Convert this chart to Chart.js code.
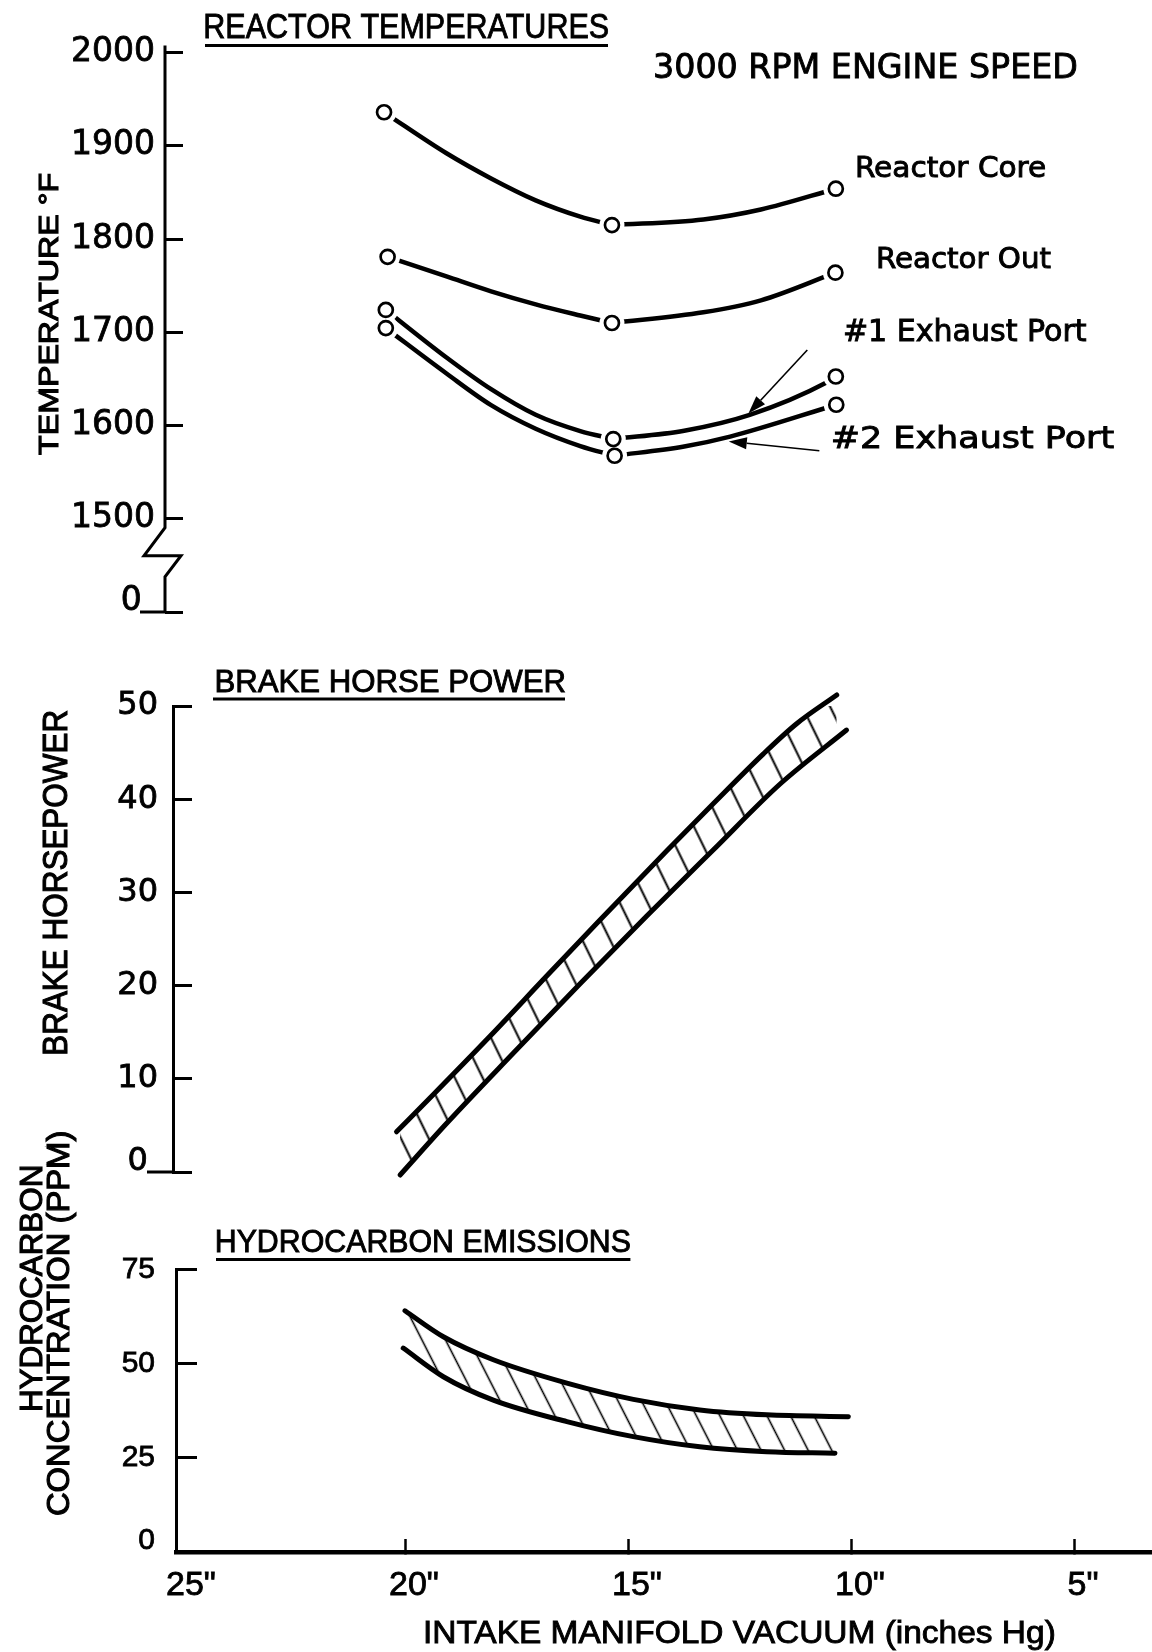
<!DOCTYPE html>
<html><head><meta charset="utf-8">
<script src="https://cdn.jsdelivr.net/npm/chart.js@4.4.0/dist/chart.umd.min.js"></script>
<style>
html,body{margin:0;padding:0;background:#fff;}
#wrap{position:relative;width:1152px;height:1652px;overflow:hidden;background:#fff;}
canvas{position:absolute;left:0;}
</style></head><body>
<div id="wrap">
<canvas id="c1" width="1152" height="640" style="top:0px;width:1152px;height:640px"></canvas>
<canvas id="c2" width="1152" height="570" style="top:630px;width:1152px;height:570px"></canvas>
<canvas id="c3" width="1152" height="562" style="top:1090px;width:1152px;height:562px"></canvas>
</div>
<script>
// ---------------- DATA ----------------
// shared x axis: intake manifold vacuum (inches Hg)
const xTickValues = [25, 20, 15, 10, 5];
const xTickLabels = ['25"', '20"', '15"', '10"', '5"'];

// Reactor temperatures (deg F); 1400 position is the broken-axis "0"
const tempTickValues = [1400, 1500, 1600, 1700, 1800, 1900, 2000];
const tempTickLabels = ['0', '1500', '1600', '1700', '1800', '1900', '2000'];
const seriesNames = ['Reactor Core', 'Reactor Out', '#1 Exhaust Port', '#2 Exhaust Port'];
// measured points (circles)
const coreX = [20.47, 15.36, 10.34];
const coreT = [1936, 1815, 1854];
const outX = [20.39, 15.36, 10.35];
const outT = [1781, 1710, 1764];
const port1X = [20.43, 15.33, 10.34];
const port1T = [1724, 1585.5, 1652.6];
const port2X = [20.43, 15.30, 10.33];
const port2T = [1704.5, 1567.6, 1622.3];
// faired curves (through the circles)
const coreCurveX = [20.47, 19.07, 18.07, 17.07, 16.07, 15.36, 13.31, 12.02, 10.34];
const coreCurveT = [1936, 1892, 1865, 1841.5, 1824, 1815, 1821, 1831.7, 1854];
const outCurveX = [20.39, 19.07, 18.07, 17.07, 16.07, 15.36, 13.31, 12.02, 10.35];
const outCurveT = [1781, 1760, 1744, 1730, 1718, 1710, 1721.5, 1734.3, 1764];
const port1CurveX = [20.43, 19.07, 18.07, 17.07, 16.07, 15.33, 13.74, 12.27, 10.55, 10.34];
const port1CurveT = [1724, 1673, 1639, 1611.5, 1594, 1585.5, 1594.4, 1611.4, 1646.1, 1652.6];
const port2CurveX = [20.43, 19.07, 18.07, 17.07, 16.07, 15.30, 13.74, 12.71, 10.33];
const port2CurveT = [1704.5, 1655.8, 1621.9, 1596.6, 1578, 1567.6, 1577.5, 1588.1, 1622.3];
// label arrows (vacuum, temperature): [fromX, fromY, toX, toY]
const arrowPort1 = [10.98, 1681, 12.30, 1613];
const arrowPort2 = [10.71, 1573, 12.74, 1583];

// Brake horse power band
const bhpTicks = [0, 10, 20, 30, 40, 50];
const bhpUpperX = [20.19, 19.37, 18.09, 16.84, 15.65, 14.13, 13.09, 11.97, 11.22, 10.32];
const bhpUpper  = [4.32, 8.29, 14.59, 20.94, 26.94, 34.47, 39.51, 44.84, 48.1, 51.18];
const bhpLowerX = [20.11, 19.07, 17.58, 16.08, 14.58, 13.09, 11.59, 10.10];
const bhpLower  = [-0.32, 5.2, 12.71, 20.17, 27.47, 34.55, 41.63, 47.42];

// Hydrocarbon emissions band (PPM)
const hcTicks = [0, 25, 50, 75];
const hcUpperX = [20.0, 19.14, 18.02, 16.37, 14.88, 13.39, 11.89, 10.06];
const hcUpper  = [64.0, 57.1, 51.0, 44.8, 40.5, 37.7, 36.4, 35.9];
const hcLowerX = [20.04, 19.14, 18.02, 16.37, 14.88, 13.39, 11.89, 10.36];
const hcLower  = [54.1, 46.5, 40.3, 34.6, 30.6, 27.9, 26.6, 26.2];

// ---------------- LAYOUT ----------------
const PAGE_W = 1152;
const X20_PX = 405, PX_PER_IN = 44.6;
const valAtPx = px => 20 - (px - X20_PX) / PX_PER_IN;
const pts = (xs, ys) => xs.map((x, i) => ({x, y: ys[i]}));

function hatch(spacing, angleDeg, lw) {
  const tile = document.createElement('canvas');
  tile.width = spacing; tile.height = spacing;
  const g = tile.getContext('2d');
  g.strokeStyle = '#000'; g.lineWidth = lw;
  g.beginPath(); g.moveTo(spacing / 2, -2); g.lineTo(spacing / 2, spacing + 2); g.stroke();
  const p = g.createPattern(tile, 'repeat');
  p.setTransform(new DOMMatrix().rotateSelf(angleDeg));
  return p;
}

function fitText(ctx, t, x0, x1, base, cap, fam, sw) {
  ctx.save();
  ctx.font = `normal ${cap * 1.4}px ${fam}`;
  ctx.textAlign = 'left'; ctx.textBaseline = 'alphabetic';
  ctx.fillStyle = '#000'; ctx.strokeStyle = '#000'; ctx.lineWidth = sw == null ? 0.9 : sw;
  const m = ctx.measureText(t);
  const w = m.actualBoundingBoxLeft + m.actualBoundingBoxRight;
  ctx.translate(x0, base); ctx.scale((x1 - x0) / w, 1);
  ctx.fillText(t, m.actualBoundingBoxLeft, 0);
  if (ctx.lineWidth > 0) ctx.strokeText(t, m.actualBoundingBoxLeft, 0);
  ctx.restore();
}
function fitTextV(ctx, t, cx, yTop, yBot, cap, fam, sw) {
  ctx.save();
  ctx.font = `normal ${cap * 1.4}px ${fam}`;
  ctx.textAlign = 'left'; ctx.textBaseline = 'alphabetic';
  ctx.fillStyle = '#000'; ctx.strokeStyle = '#000'; ctx.lineWidth = sw == null ? 0.9 : sw;
  const m = ctx.measureText(t);
  const w = m.actualBoundingBoxLeft + m.actualBoundingBoxRight;
  ctx.translate(cx + cap / 2, yBot); ctx.rotate(-Math.PI / 2); ctx.scale((yBot - yTop) / w, 1);
  ctx.fillText(t, m.actualBoundingBoxLeft, 0);
  ctx.strokeText(t, m.actualBoundingBoxLeft, 0);
  ctx.restore();
}
function seg(ctx, x1, y1, x2, y2, lw) {
  ctx.save(); ctx.strokeStyle = '#000'; ctx.lineWidth = lw; ctx.lineCap = 'butt';
  ctx.beginPath(); ctx.moveTo(x1, y1); ctx.lineTo(x2, y2); ctx.stroke(); ctx.restore();
}
function arrow(ctx, x1, y1, x2, y2, headLen, headW, lw) {
  ctx.save(); ctx.strokeStyle = '#000'; ctx.fillStyle = '#000'; ctx.lineWidth = lw;
  const a = Math.atan2(y2 - y1, x2 - x1);
  const bx = x2 - headLen * Math.cos(a), by = y2 - headLen * Math.sin(a);
  ctx.beginPath(); ctx.moveTo(x1, y1); ctx.lineTo(bx, by); ctx.stroke();
  ctx.beginPath(); ctx.moveTo(x2, y2);
  ctx.lineTo(bx + headW * Math.sin(a), by - headW * Math.cos(a));
  ctx.lineTo(bx - headW * Math.sin(a), by + headW * Math.cos(a));
  ctx.closePath(); ctx.fill(); ctx.restore();
}

function xScale(axisPx, show, extra) {
  return Object.assign({
    type: 'linear', reverse: true, display: show,
    min: valAtPx(PAGE_W), max: valAtPx(axisPx),
    afterBuildTicks: s => { s.ticks = xTickValues.map(v => ({value: v})); }
  }, extra || {});
}
function yScale(min, max, vals, labels, axisPx, tickLen, pad, fam, size, borderOn, zeroVal, zeroLabel, zeroLH) {
  return {
    type: 'linear', position: 'left', min, max,
    afterBuildTicks: s => { s.ticks = vals.map(v => ({value: v})); },
    afterFit: s => { s.width = axisPx; s.paddingTop = 0; s.paddingBottom = 0; },
    border: {display: borderOn, color: '#000', width: 3},
    grid: {drawOnChartArea: false, drawTicks: true, tickLength: -tickLen, tickWidth: 3, tickColor: '#000'},
    ticks: {color: '#000', padding: pad, autoSkip: false, textStrokeColor: '#000', textStrokeWidth: 0.8,
            font: c => ({family: fam, size, lineHeight: (c.tick && c.tick.value === zeroVal) ? zeroLH : 1.2}),
            callback: v => v === zeroVal ? [zeroLabel, ''] : labels[vals.indexOf(v)]}
  };
}
const baseOpts = {
  responsive: false, animation: false, devicePixelRatio: 1, events: [],
  plugins: {legend: {display: false}, tooltip: {enabled: false},
            filler: {propagate: false, drawTime: 'beforeDatasetsDraw'}}
};

// ---------------- CHART 1: reactor temperatures ----------------
const T1 = 0;
const tempCurves = [[coreCurveX, coreCurveT, coreX[1]], [outCurveX, outCurveT, outX[1]],
                    [port1CurveX, port1CurveT, port1X[1]], [port2CurveX, port2CurveT, port2X[1]]];
const tempPoints = [[coreX, coreT], [outX, outT], [port1X, port1T], [port2X, port2T]];
const allTempPts = tempPoints.flatMap(([xs, ys]) => pts(xs, ys));
// each curve is drawn as two faired branches meeting at the middle circle
const branchSets = tempCurves.flatMap(([xs, ys, midX], i) => {
  const k = xs.indexOf(midX);
  const mk = (a, b) => ({
    label: seriesNames[i], data: pts(xs.slice(a, b), ys.slice(a, b)), borderColor: '#000', borderWidth: 4.5,
    pointRadius: 0, fill: false, cubicInterpolationMode: 'monotone', order: 2, clip: false
  });
  return [mk(0, k + 1), mk(k, xs.length)];
});
new Chart(document.getElementById('c1'), {
  type: 'line',
  data: {datasets: [
    ...branchSets,
    {label: 'halo', data: allTempPts, showLine: false, pointRadius: 12.5,
     pointBackgroundColor: '#fff', pointBorderColor: '#fff', pointBorderWidth: 0, order: 1, clip: false},
    {label: 'points', data: allTempPts, showLine: false, pointRadius: 7,
     pointBackgroundColor: 'rgba(0,0,0,0)', pointBorderColor: '#000', pointBorderWidth: 2.7, order: 0, clip: false}
  ]},
  options: Object.assign({}, baseOpts, {
    layout: {autoPadding: false, padding: {top: 52.6, bottom: 28, left: 0, right: 0}},
    scales: {
      x: xScale(165, false),
      y: yScale(1400, 2000, tempTickValues, tempTickLabels, 165, 18, 28, 'DejaVu Sans', 33, false,
                1400, '0\u2009\u2009', 0.66)
    }
  }),
  plugins: [{
    id: 'deco1',
    afterDraw(chart) {
      const ctx = chart.ctx, ys = chart.scales.y, xs = chart.scales.x;
      const ax = chart.chartArea.left;
      const yTop = ys.getPixelForValue(2000), y15 = ys.getPixelForValue(1500), y0 = ys.getPixelForValue(1400);
      ctx.save(); ctx.strokeStyle = '#000'; ctx.lineWidth = 3; ctx.lineJoin = 'miter';
      ctx.beginPath();
      ctx.moveTo(ax, yTop - 7); ctx.lineTo(ax, y15 + 9); ctx.lineTo(ax - 21, y15 + 37);
      ctx.lineTo(ax + 16, y15 + 37); ctx.lineTo(ax, y15 + 58); ctx.lineTo(ax, y0);
      ctx.stroke(); ctx.restore();
      seg(ctx, ax - 25, y0, ax, y0, 3);
      [arrowPort1, arrowPort2].forEach(a => {
        arrow(ctx, xs.getPixelForValue(a[0]), ys.getPixelForValue(a[1]),
              xs.getPixelForValue(a[2]), ys.getPixelForValue(a[3]), 18, 6, 1.6);
      });
      fitText(ctx, 'REACTOR TEMPERATURES', 205, 608, 37.5 - T1, 25, 'Liberation Sans');
      seg(ctx, 205, 45.5 - T1, 608, 45.5 - T1, 3);
      fitText(ctx, '3000 RPM ENGINE SPEED', 655, 1076, 78 - T1, 24, 'DejaVu Sans');
      fitText(ctx, seriesNames[0], 857, 1045, 177 - T1, 20, 'DejaVu Sans');
      fitText(ctx, seriesNames[1], 878, 1051, 268 - T1, 20, 'DejaVu Sans');
      fitText(ctx, seriesNames[2], 845, 1086, 341 - T1, 21, 'DejaVu Sans');
      fitText(ctx, seriesNames[3], 833, 1114, 448 - T1, 22, 'DejaVu Sans');
      fitTextV(ctx, 'TEMPERATURE °F', 48, 174, 455, 20, 'Liberation Sans', 1.1);
    }
  }]
});

// ---------------- CHART 2: brake horse power ----------------
const T2 = 630;
new Chart(document.getElementById('c2'), {
  type: 'line',
  data: {datasets: [
    {label: 'BHP upper', data: pts(bhpUpperX, bhpUpper), fill: '+1', backgroundColor: hatch(25, -26, 2),
     borderColor: '#000', borderWidth: 5, pointRadius: 0, cubicInterpolationMode: 'monotone',
     borderCapStyle: 'round', clip: false},
    {label: 'BHP lower', data: pts(bhpLowerX, bhpLower), fill: false,
     borderColor: '#000', borderWidth: 5, pointRadius: 0, cubicInterpolationMode: 'monotone',
     borderCapStyle: 'round', clip: false}
  ]},
  options: Object.assign({}, baseOpts, {
    layout: {autoPadding: false, padding: {top: 706 - T2, bottom: 570 - (1172 - T2), left: 0, right: 0}},
    scales: {
      x: xScale(173, false),
      y: yScale(0, 50, bhpTicks, bhpTicks.map(String), 173, 19, 34, 'DejaVu Sans', 32, true,
                0, '0 ', 0.66)
    }
  }),
  plugins: [{
    id: 'deco2',
    afterDraw(chart) {
      const ctx = chart.ctx, ys = chart.scales.y, ax = chart.chartArea.left;
      seg(ctx, ax - 26, ys.getPixelForValue(0), ax, ys.getPixelForValue(0), 3);
      fitText(ctx, 'BRAKE HORSE POWER', 216.5, 564.7, 692 - T2, 22, 'Liberation Sans');
      seg(ctx, 213, 699 - T2, 565, 699 - T2, 3);
      fitTextV(ctx, 'BRAKE HORSEPOWER', 54.5, 711 - T2, 1054 - T2, 25, 'Liberation Sans', 1.1);
    }
  }]
});

// ---------------- CHART 3: hydrocarbon emissions ----------------
const T3 = 1090;
new Chart(document.getElementById('c3'), {
  type: 'line',
  data: {datasets: [
    {label: 'HC upper', data: pts(hcUpperX, hcUpper), fill: '+1', backgroundColor: hatch(21, -27, 1.6),
     borderColor: '#000', borderWidth: 5, pointRadius: 0, cubicInterpolationMode: 'monotone',
     borderCapStyle: 'round', clip: false},
    {label: 'HC lower', data: pts(hcLowerX, hcLower), fill: false,
     borderColor: '#000', borderWidth: 5, pointRadius: 0, cubicInterpolationMode: 'monotone',
     borderCapStyle: 'round', clip: false}
  ]},
  options: Object.assign({}, baseOpts, {
    layout: {autoPadding: false, padding: {top: 1269.3 - T3, bottom: 0, left: 0, right: 0}},
    scales: {
      x: xScale(176, true, {
        position: 'bottom',
        afterFit: s => { s.height = 562 - (1552 - T3); s.paddingLeft = 0; s.paddingRight = 0; },
        border: {display: true, color: '#000', width: 4.5},
        grid: {drawOnChartArea: false, drawTicks: true, tickLength: -13, tickWidth: 2.5,
               tickColor: c => (c.tick && c.tick.value === 25) ? 'rgba(0,0,0,0)' : '#000'},
        ticks: {color: '#000', font: {family: 'Liberation Sans', size: 34}, padding: 26, labelOffset: 9,
                textStrokeColor: '#000', textStrokeWidth: 0.8,
                autoSkip: false, maxRotation: 0, minRotation: 0,
                callback: v => xTickLabels[xTickValues.indexOf(v)]}
      }),
      y: yScale(0, 75, hcTicks, hcTicks.map(String), 176, 21, 42, 'Liberation Sans', 30, true,
                0, '0', 0.72)
    }
  }),
  plugins: [{
    id: 'deco3',
    afterDraw(chart) {
      const ctx = chart.ctx;
      fitText(ctx, 'HYDROCARBON EMISSIONS', 216.7, 630.4, 1252 - T3, 22, 'Liberation Sans');
      seg(ctx, 216, 1259.5 - T3, 630.4, 1259.5 - T3, 3);
      fitTextV(ctx, 'HYDROCARBON', 31, 1167 - T3, 1410 - T3, 22, 'Liberation Sans', 1.1);
      fitTextV(ctx, 'CONCENTRATION (PPM)', 57.5, 1132 - T3, 1515 - T3, 22, 'Liberation Sans', 1.1);
      fitText(ctx, 'INTAKE MANIFOLD VACUUM (inches Hg)', 425, 1054, 1643 - T3, 23, 'Liberation Sans');
    }
  }]
});
</script>
</body></html>
